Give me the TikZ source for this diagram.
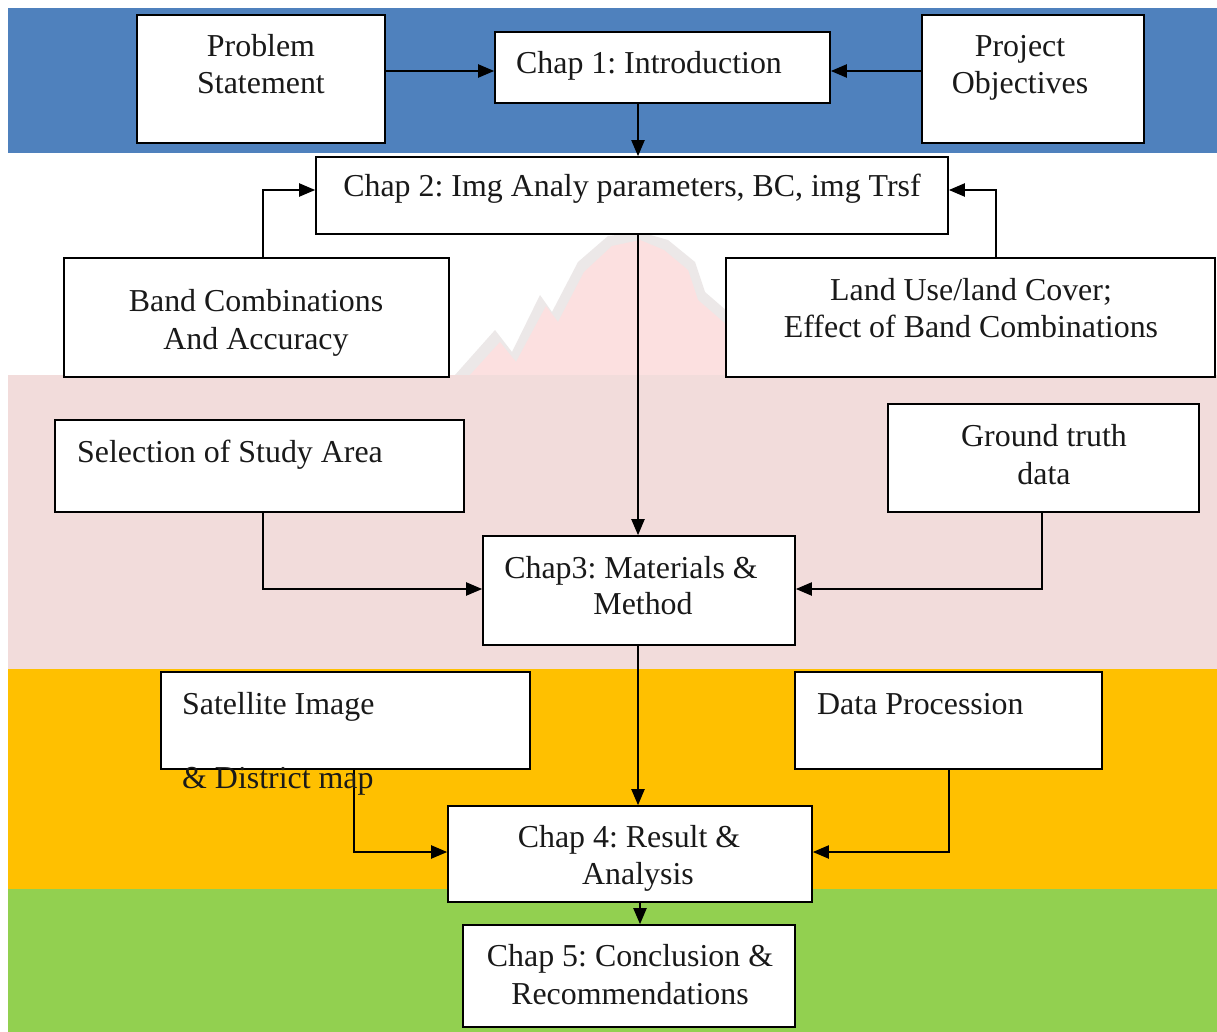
\documentclass[tikz,border=0pt]{standalone}
\usepackage{fontspec}
\setmainfont{Liberation Serif}
\frenchspacing
\usetikzlibrary{arrows.meta}
\definecolor{bandblue}{HTML}{4F81BD}
\definecolor{bandpink}{HTML}{F2DCDB}
\definecolor{bandorange}{HTML}{FFC000}
\definecolor{bandgreen}{HTML}{92D050}
\definecolor{markred}{HTML}{FCE0E0}
\definecolor{markgrey}{HTML}{ECE8E8}
\begin{document}
\begin{tikzpicture}[x=1pt,y=-1pt,
  box/.style={draw, line width=1.6pt, fill=white, inner sep=0pt},
  lbl/.style={font=\fontsize{31.9}{37.5}\selectfont, inner sep=0pt, text=black!90},
  arr/.style={line width=2pt, -{Triangle[length=16pt,width=13pt]}}]
\useasboundingbox (0,0) rectangle (1217,1032);
\fill[white] (0,0) rectangle (1217,1032);
% faint mark behind the white band
\fill[markgrey] (455,375) -- (495,330) -- (512,352) -- (540,295) -- (552,312) -- (578,262) -- (608,236) -- (640,232) -- (668,240) -- (695,262) -- (705,292) -- (735,318) -- (740,375) -- cycle;
\fill[markred] (470,375) -- (500,342) -- (516,362) -- (546,306) -- (558,322) -- (584,272) -- (612,246) -- (640,240) -- (664,250) -- (688,270) -- (698,300) -- (728,326) -- (730,375) -- cycle;
% background bands
\fill[bandblue] (8,8) rectangle (1217,153);
\fill[bandpink] (8,375) rectangle (1217,669);
\fill[bandorange] (8,669) rectangle (1217,889);
\fill[bandgreen] (8,889) rectangle (1217,1032);
% boxes
\node[box, minimum width=248pt, minimum height=128pt] (ps) at (261,79) {};
\node[box, minimum width=335pt, minimum height=71pt] (c1) at (662.5,67.5) {};
\node[box, minimum width=222pt, minimum height=128pt] (po) at (1033,79) {};
\node[box, minimum width=632pt, minimum height=77pt] (c2) at (632,195.5) {};
\node[box, minimum width=385pt, minimum height=119pt] (bc) at (256.5,317.5) {};
\node[box, minimum width=489pt, minimum height=119pt] (lu) at (970.5,317.5) {};
\node[box, minimum width=409pt, minimum height=92pt] (sa) at (259.5,466) {};
\node[box, minimum width=311pt, minimum height=108pt] (gt) at (1043.5,458) {};
\node[box, minimum width=312pt, minimum height=109pt] (c3) at (639,590.5) {};
\node[box, minimum width=369pt, minimum height=97pt] (si) at (345.5,720.5) {};
\node[box, minimum width=307pt, minimum height=97pt] (dp) at (948.5,720.5) {};
\node[box, minimum width=364pt, minimum height=96pt] (c4) at (630,854) {};
\node[box, minimum width=332pt, minimum height=102pt] (c5) at (629,976) {};
% vertical spine
\coordinate (sp) at (638,0);
\coordinate (sq) at (640,0);
% connectors
\draw[arr] (ps.east |- 0,71) -- (c1.west |- 0,71);
\draw[arr] (po.west |- 0,71) -- (c1.east |- 0,71);
\draw[arr] (c1.south -| sp) -- (c2.north -| sp);
\draw[arr] ([xshift=6.5pt]bc.north) |- ([yshift=5.5pt]c2.west);
\draw[arr] ([xshift=25.5pt]lu.north) |- ([yshift=5.5pt]c2.east);
\draw[arr] (c2.south -| sp) -- (c3.north -| sp);
\draw[arr] ([xshift=3.5pt]sa.south) |- ([yshift=1.5pt]c3.west);
\draw[arr] ([xshift=-1.5pt]gt.south) |- ([yshift=1.5pt]c3.east);
\draw[arr] (c3.south -| sp) -- (c4.north -| sp);
\draw[arr] ([xshift=8.5pt]si.south) |- ([yshift=2pt]c4.west);
\draw[arr] ([xshift=0.5pt]dp.south) |- ([yshift=2pt]c4.east);
\draw[arr] (c4.south -| sq) -- (c5.north -| sq);
% labels
\node[lbl, anchor=base] (psA) at (261,57) {Problem};
\node[lbl, anchor=base] (psB) at (261,94) {Statement};
\node[lbl, anchor=base] (c1A) at (649,74) {Chap 1: Introduction};
\node[lbl, anchor=base] (poA) at (1020,57) {Project};
\node[lbl, anchor=base] (poB) at (1020,94) {Objectives};
\node[lbl, anchor=base] (c2A) at (632,197) {Chap 2: Img Analy parameters, BC, img Trsf};
\node[lbl, anchor=base] (bcA) at (256,311) {Band Combinations};
\node[lbl, anchor=base] (bcB) at (256,349) {And Accuracy};
\node[lbl, anchor=base] (luA) at (971,300) {Land Use/land Cover;};
\node[lbl, anchor=base] (luB) at (971,337) {Effect of Band Combinations};
\node[lbl, anchor=base west] (saA) at (77,462) {Selection of Study Area};
\node[lbl, anchor=base] (gtA) at (1044,446) {Ground truth};
\node[lbl, anchor=base] (gtB) at (1044,484) {data};
\node[lbl, anchor=base] (c3A) at (631,578) {Chap3: Materials \&};
\node[lbl, anchor=base] (c3B) at (643,614) {Method};
\node[lbl, anchor=base west] (siA) at (182,714) {Satellite Image};
\node[lbl, anchor=base west] (siB) at (182,788) {\& District map};
\node[lbl, anchor=base west] (dpA) at (817,714) {Data Procession};
\node[lbl, anchor=base] (c4A) at (629,847) {Chap 4: Result \&};
\node[lbl, anchor=base] (c4B) at (638,884) {Analysis};
\node[lbl, anchor=base] (c5A) at (630,966) {Chap 5: Conclusion \&};
\node[lbl, anchor=base] (c5B) at (630,1004) {Recommendations};
\end{tikzpicture}
\end{document}
